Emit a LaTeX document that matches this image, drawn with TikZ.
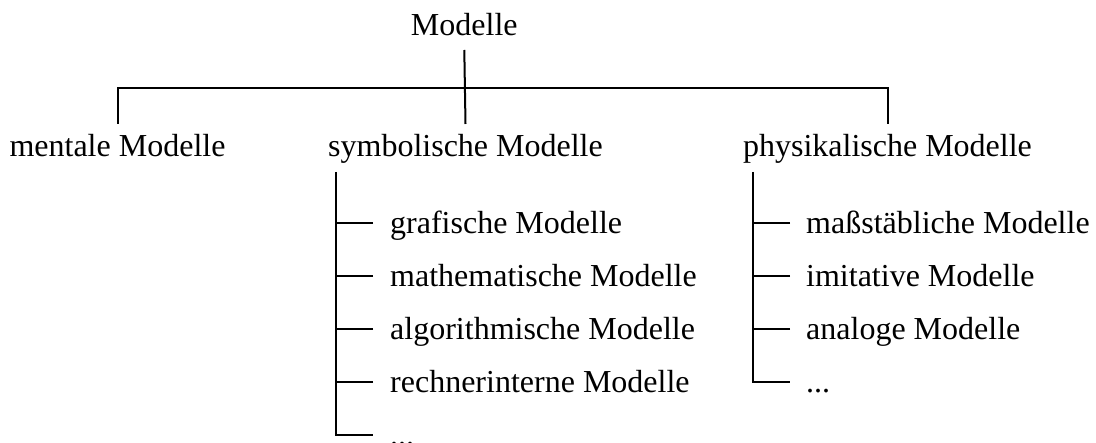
\documentclass[tikz,border=0pt]{standalone}
\usepackage{fontspec}
\setmainfont{Liberation Serif}
\usetikzlibrary{calc}
\begin{document}
\begin{tikzpicture}[x=1pt,y=-1pt,
  lbl/.style={inner sep=0pt, font=\fontsize{32}{38}\selectfont},
  conn/.style={line width=2pt, black}]
\useasboundingbox (0,0) rectangle (1096,443);
\clip (0,0) rectangle (1096,443);

% top level
\node[lbl,anchor=base] (root) at (464.3,36) {Modelle};
\node[lbl,anchor=base] (ment) at (117.5,157) {mentale Modelle};
\node[lbl,anchor=base] (symb) at (465.5,157) {symbolische Modelle};
\node[lbl,anchor=base] (phys) at (887.5,157) {physikalische Modelle};

\coordinate (bus) at (0,87.7);
\draw[conn] ($(ment.base)+(0,-33)$) |- (bus -| symb.base) -| ($(phys.base)+(0,-33)$);
\draw[conn] ($(root.base)+(0,14)$) -- ($(symb.base)+(0,-33)$);

% symbolic models
\coordinate (strunk) at (336,172);
\node[lbl,anchor=base west] (s1) at (390,233.2) {grafische Modelle};
\node[lbl,anchor=base west] (s2) at (390,286.5) {mathematische Modelle};
\node[lbl,anchor=base west] (s3) at (390,339.5) {algorithmische Modelle};
\node[lbl,anchor=base west] (s4) at (390,392.5) {rechnerinterne Modelle};
\node[lbl,anchor=base west] (s5) at (390,445.5) {...};
\foreach \n in {s1,s2,s3,s4}
  \draw[conn] ($(\n.base west)+(-17,-10.5)$) coordinate (t) -- (t -| strunk);
\draw[conn] (strunk) |- ($(s5.base west)+(-17,-10.5)$);

% physical models
\coordinate (ptrunk) at (752.7,172);
\node[lbl,anchor=base west] (p1) at (806,233.2) {maßstäbliche Modelle};
\node[lbl,anchor=base west] (p2) at (806,286.5) {imitative Modelle};
\node[lbl,anchor=base west] (p3) at (806,339.5) {analoge Modelle};
\node[lbl,anchor=base west] (p4) at (806,392.5) {...};
\foreach \n in {p1,p2,p3}
  \draw[conn] ($(\n.base west)+(-16,-10.5)$) coordinate (t) -- (t -| ptrunk);
\draw[conn] (ptrunk) |- ($(p4.base west)+(-16,-10.5)$);
\end{tikzpicture}
\end{document}
